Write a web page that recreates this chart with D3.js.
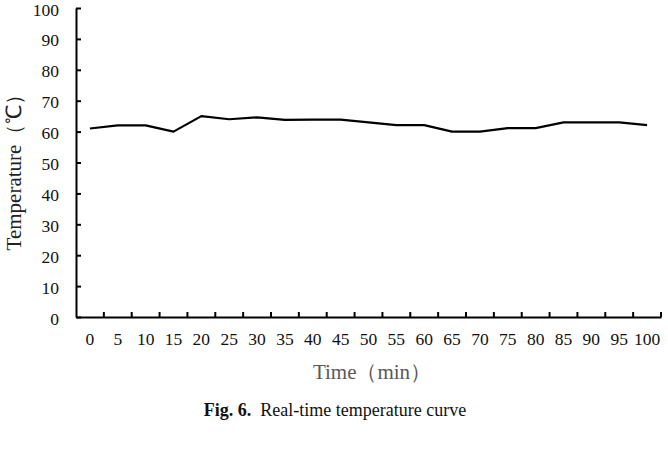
<!DOCTYPE html>
<html>
<head>
<meta charset="utf-8">
<script src="https://cdn.jsdelivr.net/npm/d3@7"></script>
<style>
  body { margin: 0; background: #fff; }
  svg { display: block; }
  svg text { font-family: "Liberation Serif", "Times New Roman", serif; }
</style>
</head>
<body>
<script>
  // time (min) and temperature readings
  const times = [0, 5, 10, 15, 20, 25, 30, 35, 40, 45, 50, 55, 60, 65, 70, 75, 80, 85, 90, 95, 100];
  const temps = [61, 62, 62, 60, 65, 64, 64.6, 63.8, 63.9, 63.9, 63, 62.1, 62.1, 60, 60, 61.1, 61.1, 63, 63, 63, 62.1];
  const yTicks = [0, 10, 20, 30, 40, 50, 60, 70, 80, 90, 100];

  const w = 668, h = 464;
  const mLeft = 76, mRight = 661, mTop = 8, mBottom = 317;

  const svg = d3.select("body").append("svg")
    .attr("width", w)
    .attr("height", h);

  const x = d3.scaleBand().domain(times).range([mLeft, mRight]);
  const y = d3.scaleLinear().domain([0, 100]).range([mBottom, mTop]);

  // y axis
  const yAxis = svg.append("g")
    .attr("transform", "translate(" + mLeft + ",0)")
    .call(d3.axisLeft(y).tickValues(yTicks).tickSize(-5).tickPadding(17).tickSizeOuter(0));
  yAxis.attr("font-family", null);
  yAxis.select(".domain").attr("stroke", "#000").attr("stroke-width", 2);
  yAxis.selectAll(".tick line").attr("stroke-width", 2);
  yAxis.selectAll("text").attr("font-size", 17.5).attr("fill", "#111").attr("dy", "0.4em");

  // x axis, ticks between categories
  const xAxis = svg.append("g")
    .attr("transform", "translate(0," + mBottom + ")")
    .call(d3.axisBottom(x).tickSize(0).tickPadding(16).tickSizeOuter(0));
  xAxis.attr("font-family", null);
  xAxis.select(".domain").attr("stroke", "#000").attr("stroke-width", 2);
  xAxis.selectAll("text").attr("font-size", 17.5).attr("fill", "#111");
  xAxis.selectAll(".sep")
    .data(times.slice(1))
    .enter()
    .append("line")
    .attr("x1", (d) => x(d))
    .attr("x2", (d) => x(d))
    .attr("y1", 0)
    .attr("y2", -5)
    .attr("stroke", "#000")
    .attr("stroke-width", 2);
  xAxis.append("line")
    .attr("x1", mRight).attr("x2", mRight)
    .attr("y1", 0).attr("y2", -5)
    .attr("stroke", "#000").attr("stroke-width", 2);

  // the curve
  const line = d3.line()
    .x((d, i) => x(times[i]) + x.bandwidth() / 2)
    .y((d) => y(d));

  svg.append("path")
    .datum(temps)
    .attr("fill", "none")
    .attr("stroke", "#000")
    .attr("stroke-width", 2.2)
    .attr("stroke-linejoin", "round")
    .attr("d", line);

  // axis titles
  svg.append("text")
    .attr("transform", "translate(21,167) rotate(-90)")
    .attr("text-anchor", "middle")
    .attr("font-size", 21)
    .attr("fill", "#222")
    .text("Temperature（℃）");

  svg.append("text")
    .attr("x", 372)
    .attr("y", 379)
    .attr("text-anchor", "middle")
    .attr("font-size", 21)
    .attr("fill", "#595959")
    .text("Time（min）");

  // caption
  const cap = svg.append("text")
    .attr("x", 335)
    .attr("y", 416)
    .attr("text-anchor", "middle")
    .attr("font-size", 18)
    .attr("fill", "#111");
  cap.append("tspan").attr("font-weight", "bold").text("Fig. 6.");
  cap.append("tspan").attr("xml:space", "preserve").text("  Real-time temperature curve");
</script>
</body>
</html>
